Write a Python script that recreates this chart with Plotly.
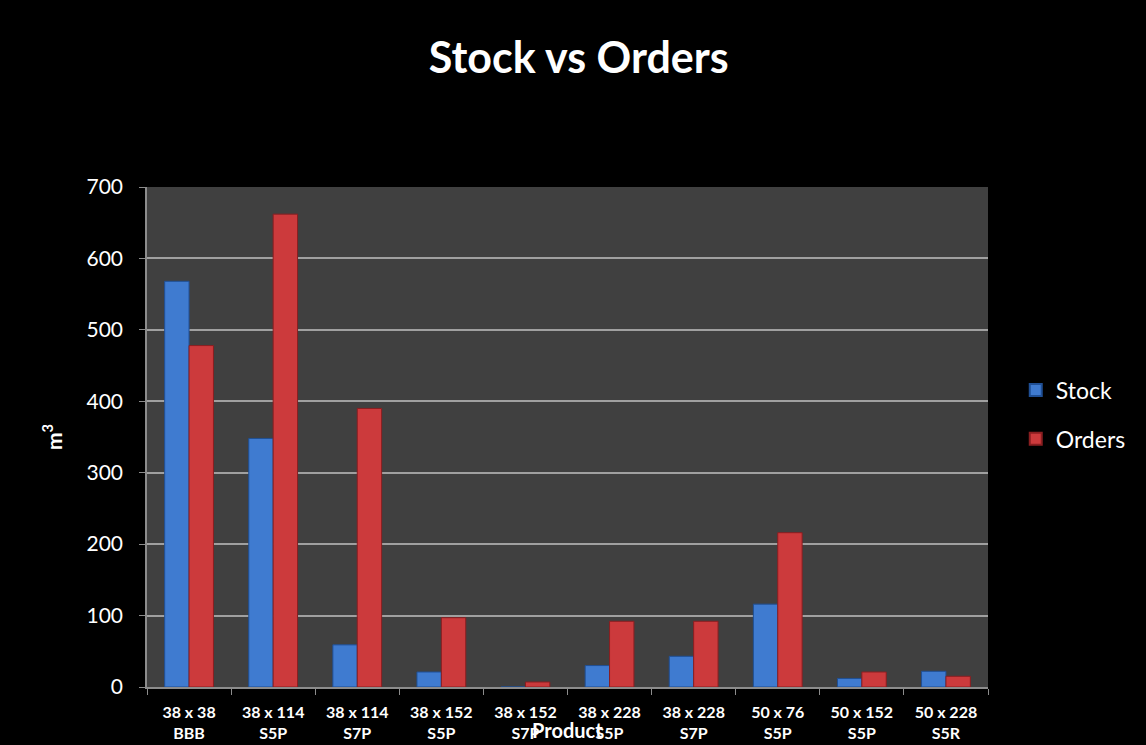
import plotly.graph_objects as go

categories = ["38 x 38<br>BBB", "38 x 114<br>S5P", "38 x 114<br>S7P", "38 x 152<br>S5P",
              "38 x 152<br>S7P", "38 x 228<br>S5P", "38 x 228<br>S7P", "50 x 76<br>S5P",
              "50 x 152<br>S5P", "50 x 228<br>S5R"]
stock = [568, 348, 59, 21, 0, 30, 43, 116, 12, 22]
orders = [478, 662, 390, 97, 7, 92, 92, 216, 21, 15]
y_ticks = [0, 100, 200, 300, 400, 500, 600, 700]

FONT = "Lato, 'Open Sans', sans-serif"

fig = go.Figure()
fig.add_trace(go.Bar(name="Stock", x=categories, y=stock, legendgroup="s",
                     marker=dict(color="#3f7bd0", line=dict(color="#1f4f95", width=1))))
fig.add_trace(go.Bar(name="Orders", x=categories, y=orders, legendgroup="o",
                     marker=dict(color="#cc3a3c", line=dict(color="#8a1e20", width=1))))

fig.update_layout(
    width=1146, height=745,
    paper_bgcolor="black", plot_bgcolor="#404040",
    barmode="group", bargap=0.42, bargroupgap=0.0,
    margin=dict(l=147, r=158, t=187, b=58, autoexpand=False),
    title=dict(text="<b>Stock vs Orders</b>", x=0.505, xanchor="center", y=0.922, yanchor="middle",
               font=dict(family=FONT, size=43, color="white")),
    font=dict(family=FONT, color="white"),
    legend=dict(x=1.033, y=0.545, xanchor="left", yanchor="middle",
                font=dict(size=23, color="white"), bgcolor="rgba(0,0,0,0)",
                tracegroupgap=16, itemsizing="constant", itemwidth=30),
    showlegend=True,
    annotations=[dict(text="<b>Product</b>", xref="paper", yref="paper", x=0.5, y=-0.086,
                      xanchor="center", yanchor="middle", showarrow=False,
                      font=dict(family=FONT, size=20, color="white"))],
)
fig.update_yaxes(range=[0, 700], tickvals=y_ticks, showgrid=True, gridcolor="#a0a0a0", gridwidth=1.5,
                 showline=True, linecolor="#8c8c8c", linewidth=1.5, ticks="outside", ticklen=6,
                 tickcolor="#8c8c8c", tickfont=dict(size=21, color="white"), automargin=False,
                 ticklabelstandoff=12,
                 title=dict(text="<b>m<sup>3</sup></b>", font=dict(size=21, color="white"), standoff=18),
                 zeroline=False)
fig.update_xaxes(showline=True, linecolor="#8c8c8c", linewidth=1.5, ticks="outside", ticklen=6,
                 tickcolor="#8c8c8c", tickson="boundaries", ticklabelstandoff=10, automargin=False,
                 tickfont=dict(size=16, color="white", family=FONT),
                 tickprefix="<b>", ticksuffix="</b>")

fig.write_html("out.html", config={"displayModeBar": False},
               post_script="document.body.style.margin='0';document.body.style.background='black';")
